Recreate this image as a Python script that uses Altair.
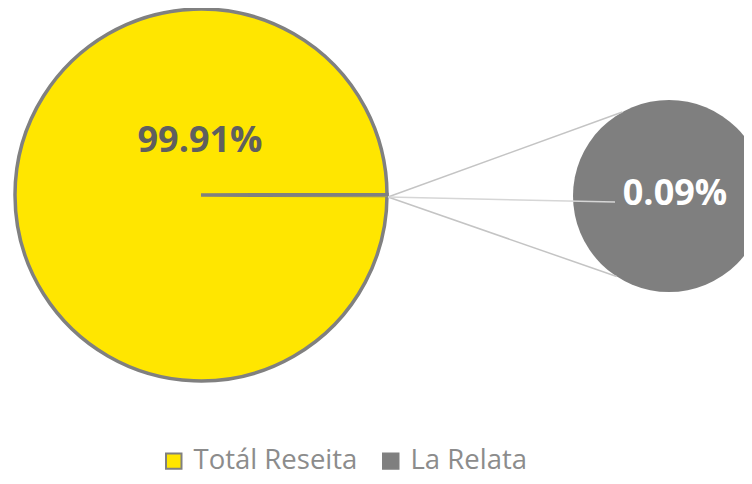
import math
import altair as alt
import pandas as pd

# ---- data ----
categories = ["La Relata", "Totál Reseita"]          # main pie slices (other-slice first)
main_values = [0.09, 99.91]                          # percent
legend_order = ["Totál Reseita", "La Relata"]
colors = ["#FFE600", "#7F7F7F"]
label_main = "99.91%"
label_small = "0.09%"

# ---- layout (pixels in chart space) ----
W, H = 736, 468
BIG_CX, BIG_CY, BIG_R = 193, 187, 186
SM_CX, SM_CY, SM_R = 661, 188, 96
TANGENT_DEG = 61

total = sum(main_values)
other_frac = main_values[0] / total
start = math.pi / 2 - other_frac * math.pi   # centre the small slice at 3 o'clock

big = pd.DataFrame({"category": categories, "value": main_values, "ord": [0, 1]})
small = pd.DataFrame({"category": [categories[0]], "value": [main_values[0]], "ord": [0]})

color_scale = alt.Scale(domain=legend_order, range=colors)
legend = alt.Legend(
    orient="none", legendX=152, legendY=439, direction="horizontal", title=None,
    symbolType="square", symbolSize=240, symbolStrokeColor="#808080", symbolStrokeWidth=2,
    symbolOpacity=1, labelFont="Open Sans", labelFontSize=27.5, labelColor="#8c8c8c",
    labelBaseline="middle",
    labelOffset=6, columnPadding=19, padding=0, labelLimit=400,
)

big_pie = alt.Chart(big).mark_arc(radius=BIG_R, stroke="#808080", strokeWidth=3.5).encode(
    theta=alt.Theta("value:Q", stack=True,
                    scale=alt.Scale(range=[start, start + 2 * math.pi])),
    color=alt.Color("category:N", scale=color_scale, legend=legend),
    order=alt.Order("ord:Q"),
    x=alt.value(BIG_CX), y=alt.value(BIG_CY),
)

small_pie = alt.Chart(small).mark_arc(radius=SM_R).encode(
    theta=alt.Theta("value:Q", stack=True, scale=alt.Scale(range=[0, 2 * math.pi])),
    color=alt.Color("category:N", scale=color_scale, legend=None),
    x=alt.value(SM_CX), y=alt.value(SM_CY),
)

# connector lines derived from the pie geometry
a = math.radians(TANGENT_DEG)
px = BIG_CX + BIG_R + 1
segs = pd.DataFrame({
    "x": [px, px, px],
    "y": [BIG_CY + 2, BIG_CY + 2, BIG_CY + 2],
    "x2": [SM_CX - SM_R * math.cos(a), SM_CX - SM_R * math.cos(math.radians(57)), SM_CX - 54],
    "y2": [SM_CY - SM_R * math.sin(a), SM_CY + SM_R * math.sin(math.radians(57)), SM_CY + 6],
    "c": ["#c4c4c4", "#c4c4c4", "#d6d6d6"],
})
lines = alt.Chart(segs).mark_rule(strokeWidth=1.5).encode(
    x=alt.X("x:Q", scale=None), y=alt.Y("y:Q", scale=None),
    x2="x2:Q", y2="y2:Q", color=alt.Color("c:N", scale=None),
)

labels = pd.DataFrame({
    "t": [label_main, label_small],
    "x": [BIG_CX - 1, SM_CX + 6],
    "y": [BIG_CY - 43, SM_CY + 9],
    "c": ["#5f5f5f", "#ffffff"],
})
texts = alt.Chart(labels).mark_text(
    font="Open Sans", fontSize=36, fontWeight="bold", align="center", baseline="alphabetic"
).encode(
    x=alt.X("x:Q", scale=None), y=alt.Y("y:Q", scale=None),
    text="t:N", color=alt.Color("c:N", scale=None),
)

chart = alt.layer(big_pie, small_pie, lines, texts).resolve_scale(
    theta="independent"
).properties(
    width=W, height=H, autosize="none", padding=0
).configure_view(stroke=None)

chart.save("out.html", embed_options={"renderer": "svg", "actions": False})
